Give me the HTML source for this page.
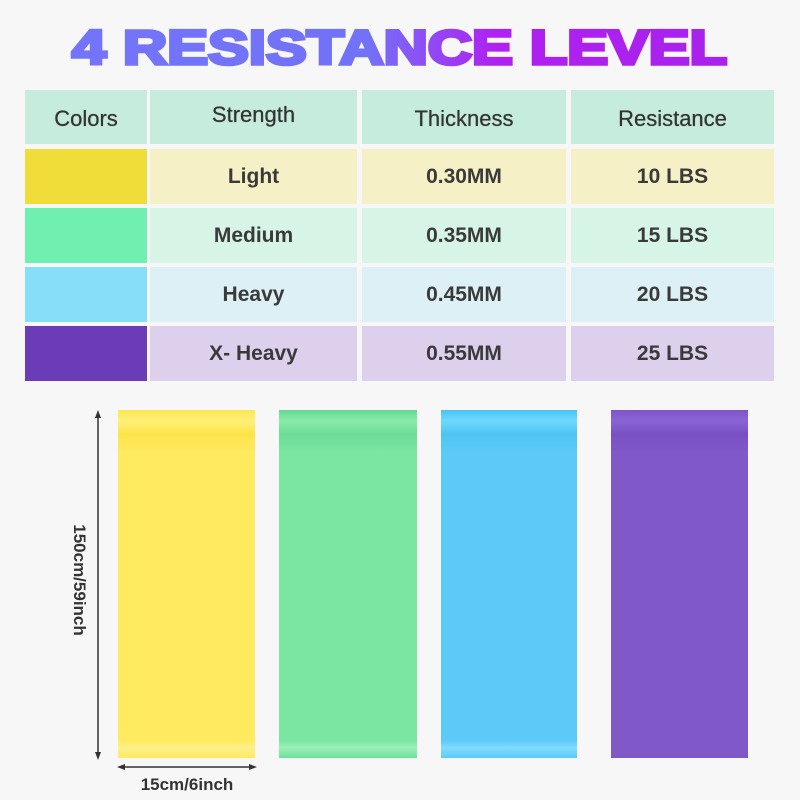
<!DOCTYPE html>
<html><head><style>
body{margin:0;width:800px;height:800px;background:#f7f7f7;position:relative;overflow:hidden;font-family:"Liberation Sans",sans-serif}
.c{position:absolute;display:flex;align-items:center;justify-content:center;font-weight:bold;font-size:21px;color:#3a3a3a}
.h{background:#c5ecdc;font-weight:normal;font-size:22px;color:#333;text-shadow:0 0 0.6px #333}
.b{position:absolute;top:410px;height:348px}
</style></head><body>
<svg style="position:absolute;left:0;top:0" width="800" height="90">
<defs><linearGradient id="g" x1="72" x2="727" gradientUnits="userSpaceOnUse">
<stop offset="0" stop-color="#7474fa"/><stop offset="0.45" stop-color="#7272f8"/><stop offset="0.65" stop-color="#b020f0"/><stop offset="1" stop-color="#a822ec"/></linearGradient></defs>
<text x="72" y="64" textLength="655" lengthAdjust="spacingAndGlyphs" font-family="Liberation Sans" font-weight="bold" font-size="48" fill="url(#g)" stroke="url(#g)" stroke-width="3.5">4  RESISTANCE LEVEL</text>
</svg>

<div class="c h" style="left:25px;top:90px;width:122px;height:54px;padding-top:4px;box-sizing:border-box">Colors</div>
<div class="c h" style="left:150px;top:90px;width:207px;height:54px;padding-bottom:4px;box-sizing:border-box">Strength</div>
<div class="c h" style="left:362px;top:90px;width:204px;height:54px;padding-top:4px;box-sizing:border-box">Thickness</div>
<div class="c h" style="left:571px;top:90px;width:203px;height:54px;padding-top:4px;box-sizing:border-box">Resistance</div>

<div class="c" style="left:25px;top:149px;width:122px;height:55px;background:#f1dd3a"></div>
<div class="c" style="left:150px;top:149px;width:207px;height:55px;background:#f6f0c6">Light</div>
<div class="c" style="left:362px;top:149px;width:204px;height:55px;background:#f6f0c6">0.30MM</div>
<div class="c" style="left:571px;top:149px;width:203px;height:55px;background:#f6f0c6">10 LBS</div>

<div class="c" style="left:25px;top:208px;width:122px;height:55px;background:#6ff0b0"></div>
<div class="c" style="left:150px;top:208px;width:207px;height:55px;background:#d6f5e6">Medium</div>
<div class="c" style="left:362px;top:208px;width:204px;height:55px;background:#d6f5e6">0.35MM</div>
<div class="c" style="left:571px;top:208px;width:203px;height:55px;background:#d6f5e6">15 LBS</div>

<div class="c" style="left:25px;top:267px;width:122px;height:55px;background:#86def8"></div>
<div class="c" style="left:150px;top:267px;width:207px;height:55px;background:#dcf0f6">Heavy</div>
<div class="c" style="left:362px;top:267px;width:204px;height:55px;background:#dcf0f6">0.45MM</div>
<div class="c" style="left:571px;top:267px;width:203px;height:55px;background:#dcf0f6">20 LBS</div>

<div class="c" style="left:25px;top:326px;width:122px;height:55px;background:#6a3cb8"></div>
<div class="c" style="left:150px;top:326px;width:207px;height:55px;background:#dcd0ec">X- Heavy</div>
<div class="c" style="left:362px;top:326px;width:204px;height:55px;background:#dcd0ec">0.55MM</div>
<div class="c" style="left:571px;top:326px;width:203px;height:55px;background:#dcd0ec">25 LBS</div>

<div class="b" style="left:118px;width:137px;background:linear-gradient(#fbe650 0,#fff078 3%,#fce448 7%,#ffea60 12%,#ffea60 95%,#fff088 97%,#ffea60 100%)"></div>
<div class="b" style="left:279px;width:138px;background:linear-gradient(#62da92 0,#8aeaa8 3%,#6cdc98 7%,#7ae6a2 12%,#7ae6a2 95%,#9af0b8 97%,#6ce09a 100%)"></div>
<div class="b" style="left:441px;width:136px;background:linear-gradient(#48c2f2 0,#70d8ff 3%,#50c4f4 7%,#5ccaf8 12%,#5ccaf8 95%,#80dcff 97%,#5ccaf8 100%)"></div>
<div class="b" style="left:611px;width:137px;background:linear-gradient(#7c54c8 0,#8a64d4 3%,#7a50c4 7%,#8058c8 12%,#8058c8 100%)"></div>

<svg style="position:absolute;left:0;top:0" width="800" height="800">
<line x1="98" y1="414" x2="98" y2="756" stroke="#333" stroke-width="1.5"/>
<polygon points="98,410 95,418 101,418" fill="#333"/>
<polygon points="98,760 95,752 101,752" fill="#333"/>
<line x1="120" y1="767" x2="254" y2="767" stroke="#333" stroke-width="1.5"/>
<polygon points="117,767 125,764 125,770" fill="#333"/>
<polygon points="257,767 249,764 249,770" fill="#333"/>
<text x="187" y="790" font-family="Liberation Sans" font-weight="bold" font-size="17" fill="#333" text-anchor="middle">15cm/6inch</text>
<text transform="translate(74,580) rotate(90)" font-family="Liberation Sans" font-weight="bold" font-size="17" fill="#333" text-anchor="middle">150cm/59inch</text>
</svg>
</body></html>
